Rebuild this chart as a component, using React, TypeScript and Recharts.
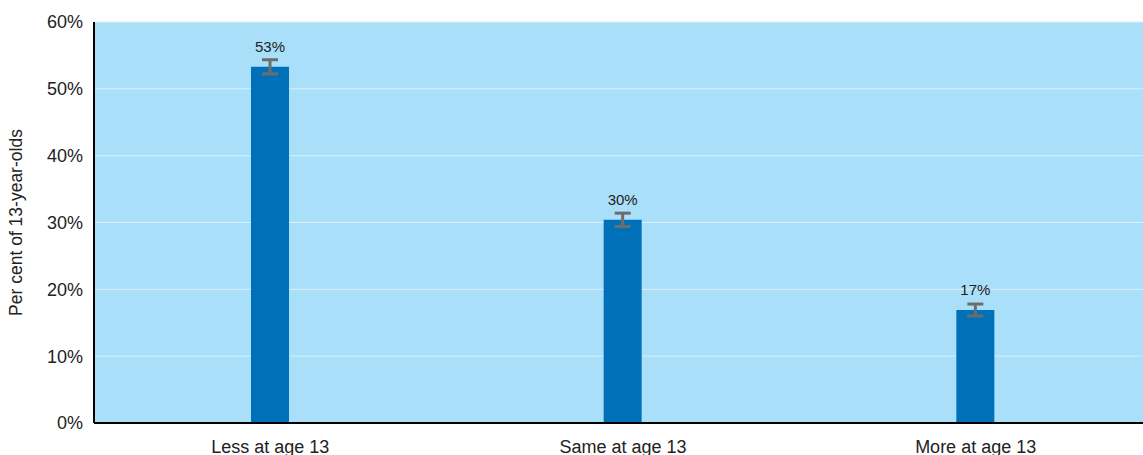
import { BarChart, Bar, XAxis, YAxis, CartesianGrid, ErrorBar, LabelList } from "recharts";

const categories = ["Less at age 13", "Same at age 13", "More at age 13"];
const shares = [53.3, 30.4, 16.9];
const errors = [1.05, 1.0, 0.9];
const labels = ["53%", "30%", "17%"];
const yTicks = [0, 10, 20, 30, 40, 50, 60];

const data = categories.map((name, i) => ({
  name,
  value: shares[i],
  err: errors[i],
  label: labels[i],
}));

const FONT = "'Liberation Sans', Arial, Helvetica, sans-serif";

export default function App() {
  return (
    <div style={{ position: "absolute", left: 0, top: 0, width: 1143, height: 455, overflow: "hidden", background: "#fff" }}>
      <BarChart width={1152} height={455} data={data} margin={{ top: 22, right: 0, bottom: 0, left: 0 }} barCategoryGap="0%">
        <CartesianGrid vertical={false} horizontal={true} fill="#aadff9" stroke="#d6f0fc" strokeWidth={1} />
        <XAxis
          dataKey="name"
          height={32}
          tickLine={false}
          axisLine={{ stroke: "#000", strokeWidth: 2 }}
          tickMargin={11}
          tick={{ fontSize: 18, fill: "#222", fontFamily: FONT }}
        />
        <YAxis
          width={94}
          domain={[0, 60]}
          ticks={yTicks}
          interval={0}
          tickFormatter={(v) => `${v}%`}
          tickLine={false}
          axisLine={{ stroke: "#000", strokeWidth: 2 }}
          tickMargin={5}
          tick={{ fontSize: 18, fill: "#222", fontFamily: FONT }}
          label={{
            value: "Per cent of 13-year-olds",
            angle: -90,
            position: "insideLeft",
            dx: 11,
            style: { textAnchor: "middle", fontSize: 17.5, fill: "#222", fontFamily: FONT },
          }}
        />
        <Bar dataKey="value" fill="#0070b8" barSize={38} isAnimationActive={false}>
          <ErrorBar dataKey="err" width={8} stroke="#6d6d6d" strokeWidth={3} direction="y" />
          <LabelList dataKey="label" position="top" offset={15} style={{ fontSize: 15, fill: "#222", fontFamily: FONT }} />
        </Bar>
      </BarChart>
    </div>
  );
}
